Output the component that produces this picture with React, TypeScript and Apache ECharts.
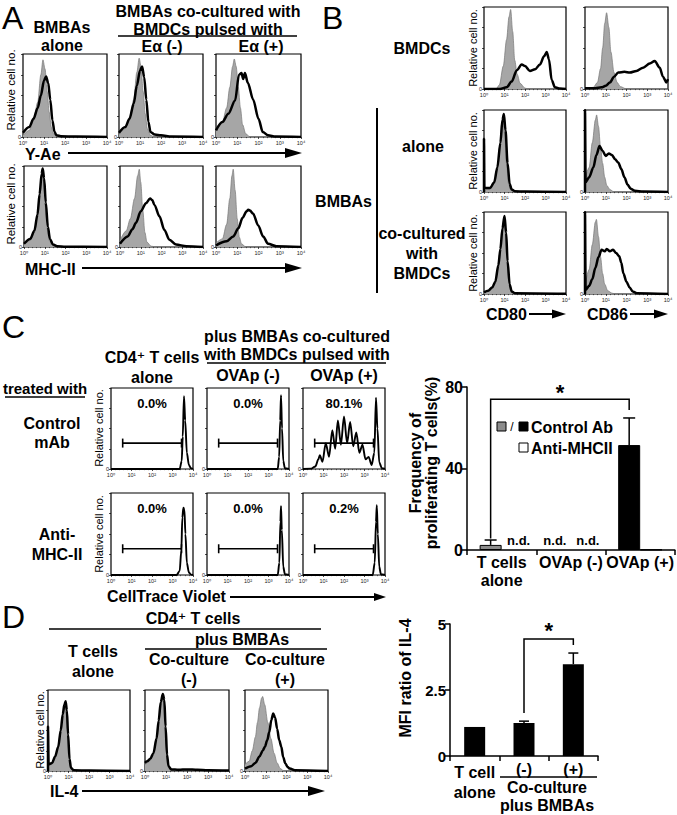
import React, { useEffect, useRef } from 'react';
import * as echarts from 'echarts';

const FONT = '"Liberation Sans", Arial, Helvetica, "DejaVu Sans", sans-serif';
const SUP = ['\u2070', '\u00b9', '\u00b2', '\u00b3', '\u2074'];

// ---------- Histogram data: [log10 fluorescence, % of max] ----------
// Panel A, Y-Ae row
const aYAeAloneIso = [[0,2],[0.3,8],[0.5,20],[0.7,42],[0.85,75],[0.95,93],[1.05,82],[1.15,55],[1.25,30],[1.35,12],[1.45,4],[1.6,0.5],[2,0],[4,0]];
const aYAeAlone = [[0,5],[0.3,12],[0.5,22],[0.7,35],[0.85,50],[1.0,68],[1.1,73],[1.2,65],[1.3,45],[1.4,20],[1.5,6],[1.6,2],[1.8,1],[2.5,0.5],[4,0]];
const aYAeMinusIso = [[0,3],[0.3,10],[0.5,22],[0.7,45],[0.85,78],[0.96,95],[1.05,85],[1.15,55],[1.25,28],[1.35,10],[1.5,2],[1.7,0],[4,0]];
const aYAeMinus = [[0,5],[0.3,12],[0.5,22],[0.7,40],[0.85,62],[1.0,80],[1.1,85],[1.2,72],[1.3,45],[1.4,18],[1.5,6],[1.7,3],[2.0,2],[2.5,0.5],[4,0]];
const aYAePlusIso = [[0,10],[0.3,18],[0.5,35],[0.65,60],[0.78,85],[0.86,94],[0.95,85],[1.05,60],[1.15,35],[1.25,15],[1.4,4],[1.6,0],[4,0]];
const aYAePlus = [[0,8],[0.3,18],[0.58,28],[0.9,44],[1.08,75],[1.2,77],[1.28,70],[1.36,77],[1.5,65],[1.75,45],[2.0,22],[2.2,6],[2.45,2],[2.8,0.5],[4,0]];
// Panel A, MHC-II row
const aMhcAloneIso = [[0,3],[0.3,8],[0.5,18],[0.65,38],[0.75,62],[0.83,85],[0.88,92],[0.95,82],[1.03,50],[1.12,22],[1.22,8],[1.35,2],[1.6,0],[4,0]];
const aMhcAlone = [[0,4],[0.3,10],[0.5,20],[0.65,40],[0.75,65],[0.85,90],[0.9,97],[0.97,85],[1.05,55],[1.15,25],[1.25,10],[1.4,3],[1.6,1],[2.0,0.3],[4,0]];
const aMhcMinusIso = [[0,8],[0.3,20],[0.5,35],[0.7,60],[0.85,88],[0.93,96],[1.0,80],[1.1,45],[1.2,18],[1.3,6],[1.5,1],[1.8,0],[4,0]];
const aMhcMinus = [[0,4],[0.37,13],[0.6,22],[0.77,30],[1.0,44],[1.25,54],[1.45,60],[1.55,58],[1.66,52],[1.9,38],[2.14,21],[2.38,9],[2.7,3],[3.2,1],[4,0]];
const aMhcPlusIso = [[0,5],[0.3,10],[0.5,28],[0.65,60],[0.75,88],[0.81,96],[0.9,70],[1.0,35],[1.1,12],[1.2,4],[1.4,0],[4,0]];
const aMhcPlus = [[0,2],[0.5,7],[0.81,13],[1.05,23],[1.25,36],[1.44,44],[1.52,46],[1.6,45],[1.75,41],[1.98,27],[2.22,13],[2.45,4],[2.84,1],[4,0]];
// Panel B
const bDcCd80Iso = [[0,0],[0.6,0.5],[0.75,5],[0.94,28],[1.1,60],[1.22,88],[1.3,97],[1.4,70],[1.5,35],[1.62,18],[1.76,7],[2.0,1],[2.2,0],[4,0]];
const bDcCd80 = [[0,0],[0.78,0],[1.1,2],[1.35,9],[1.6,23],[1.84,30],[2.0,28],[2.24,22],[2.49,24],[2.73,30],[2.93,40],[3.06,45],[3.17,36],[3.3,11],[3.46,2],[3.7,0.5],[4,0]];
const bDcCd86Iso = [[0,0.5],[0.4,2],[0.6,8],[0.75,25],[0.85,50],[0.95,80],[1.04,93],[1.15,75],[1.25,45],[1.4,20],[1.55,8],[1.7,3],[2.0,0],[4,0]];
const bDcCd86 = [[0,1],[0.5,1],[0.8,2],[1.0,4],[1.2,8],[1.4,15],[1.6,20],[1.9,21],[2.16,20],[2.48,22],[2.8,26],[3.12,31],[3.36,34],[3.6,26],[3.76,15],[3.92,8],[4,12]];
const bAloneCd80Iso = [[0,2],[0.3,4],[0.5,10],[0.65,28],[0.78,58],[0.87,85],[0.92,90],[1.0,72],[1.1,35],[1.2,10],[1.3,3],[1.5,0],[4,0]];
const bAloneCd80 = [[0,0],[0,65],[0.02,5],[0.3,5],[0.5,12],[0.65,30],[0.8,60],[0.9,88],[0.97,95],[1.05,75],[1.15,35],[1.25,10],[1.35,3],[1.5,1],[2,0.5],[4,0]];
const bAloneCd86Iso = [[0,15],[0.2,30],[0.35,60],[0.5,88],[0.56,94],[0.65,80],[0.75,55],[0.85,35],[0.95,18],[1.05,8],[1.2,3],[1.4,0],[4,0]];
const bAloneCd86 = [[0,0],[0,100],[0.03,12],[0.2,18],[0.4,30],[0.55,45],[0.7,56],[0.85,50],[1.0,44],[1.15,47],[1.3,45],[1.45,40],[1.6,36],[1.75,28],[1.9,18],[2.05,9],[2.2,4],[2.4,1.5],[2.8,0.5],[4,0]];
const bCoCd80Iso = [[0,2],[0.2,4],[0.4,8],[0.55,14],[0.7,32],[0.8,52],[0.9,78],[0.97,92],[1.05,75],[1.12,42],[1.22,14],[1.32,4],[1.5,0.5],[4,0]];
const bCoCd80 = [[0,2],[0.2,4],[0.4,8],[0.55,15],[0.7,35],[0.8,55],[0.9,80],[1.0,95],[1.08,75],[1.15,40],[1.25,12],[1.35,3],[1.5,1],[4,0.3]];
const bCoCd86Iso = [[0,10],[0.2,30],[0.35,60],[0.5,88],[0.55,91],[0.65,70],[0.75,45],[0.85,25],[0.95,12],[1.1,4],[1.3,1],[1.5,0],[4,0]];
const bCoCd86 = [[0,0],[0,100],[0.03,5],[0.2,10],[0.35,18],[0.5,32],[0.65,45],[0.8,54],[0.95,52],[1.05,55],[1.2,52],[1.35,54],[1.5,50],[1.65,46],[1.75,38],[1.85,25],[2.0,15],[2.15,8],[2.3,3],[2.5,1],[4,0]];
// Panel C (CellTrace Violet)
const cCtrlAlone = [[0,0],[3.35,0],[3.45,10],[3.5,40],[3.56,90],[3.62,60],[3.7,20],[3.8,5],[3.9,1],[4,0]];
const cCtrlMinus = [[0,0],[3.45,0],[3.52,15],[3.57,60],[3.61,91],[3.66,50],[3.72,10],[3.8,1],[4,0]];
const cCtrlPlus = [[0,0],[0.4,0.5],[0.6,3],[0.75,12],[0.82,17],[0.95,9],[1.11,32],[1.27,15],[1.43,48],[1.57,25],[1.7,60],[1.85,30],[2.0,65],[2.15,32],[2.3,58],[2.45,28],[2.6,45],[2.75,20],[2.9,30],[3.05,12],[3.2,15],[3.35,5],[3.48,20],[3.56,88],[3.63,50],[3.72,8],[3.85,1],[4,0]];
const cAntiAlone = [[0,0],[3.2,0],[3.35,5],[3.43,30],[3.48,70],[3.53,82],[3.58,80],[3.63,50],[3.7,15],[3.8,3],[3.9,0.5],[4,0]];
const cAntiMinus = [[0,0],[3.45,0],[3.53,15],[3.58,65],[3.61,84],[3.65,55],[3.72,10],[3.8,1],[4,0]];
const cAntiPlus = [[0,0],[3.4,0],[3.5,15],[3.56,65],[3.6,85],[3.65,50],[3.72,10],[3.8,1],[4,0]];
const cPercents = ['0.0%', '0.0%', '80.1%', '0.0%', '0.0%', '0.2%'];
const cGate = [0.57, 3.44];
const cGateLevel = 32;
// Panel D (IL-4)
const dAloneIso = [[0,10],[0.2,10],[0.35,18],[0.5,30],[0.62,50],[0.72,70],[0.8,80],[0.85,82],[0.92,70],[0.98,40],[1.05,12],[1.12,3],[1.3,0],[4,0]];
const dAlone = [[0,0],[0,55],[0.03,8],[0.2,10],[0.35,18],[0.5,30],[0.62,50],[0.72,70],[0.8,82],[0.86,86],[0.92,75],[0.98,45],[1.05,15],[1.12,4],[1.25,1],[2,0.5],[4,0]];
const dMinusIso = [[0,8],[0.2,12],[0.4,20],[0.55,38],[0.65,60],[0.75,82],[0.85,93],[0.92,85],[0.98,50],[1.05,15],[1.15,4],[1.3,0],[4,0]];
const dMinus = [[0,10],[0.1,12],[0.25,15],[0.4,22],[0.55,40],[0.65,62],[0.75,85],[0.85,95],[0.92,88],[0.98,55],[1.05,20],[1.12,6],[1.25,2],[1.6,1.5],[2.0,2],[2.5,1.5],[3,1],[4,0.5]];
const dPlusIso = [[0,8],[0.2,12],[0.35,25],[0.5,42],[0.6,60],[0.7,78],[0.8,90],[0.85,92],[0.95,82],[1.1,60],[1.25,40],[1.4,22],[1.55,10],[1.7,3],[1.85,0.5],[2,0],[4,0]];
const dPlus = [[0,3],[0.3,6],[0.5,10],[0.7,18],[0.85,25],[0.96,30],[1.07,38],[1.17,48],[1.27,63],[1.36,71],[1.45,66],[1.55,52],[1.65,38],[1.75,30],[1.84,17],[1.95,9],[2.05,5],[2.16,3],[2.4,1],[4,0]];

// ---------- Bar chart data ----------
const cBarCategories = ['T cells\nalone', 'OVAp (-)', 'OVAp (+)'];
const cControlAb = [2.5, null, 51.5]; // null = n.d.
const cControlErr = [2.4, 0, 13.3];
const cAntiMHCII = [null, null, 0.2];
const cBracket = [0, 2, 74, 5.6, 68.7, 80]; // from, to, level, left foot, right foot, star level
const dBarCategories = ['T cell\nalone', '(-)', '(+)'];
const dMfiRatio = [1.1, 1.25, 3.48];
const dMfiErr = [0, 0.07, 0.42];
const dBracket = [1, 2, 4.43, 1.63, 4.2, 4.96];

// ---------- Layout ----------
type H = { left: number; top: number; w: number; h: number; gray?: number[][]; black: number[][]; c?: number };
const histLayout: H[] = [
  { left: 23, top: 54, w: 84, h: 83, gray: aYAeAloneIso, black: aYAeAlone },
  { left: 119, top: 54, w: 84, h: 83, gray: aYAeMinusIso, black: aYAeMinus },
  { left: 216, top: 54, w: 85, h: 83, gray: aYAePlusIso, black: aYAePlus },
  { left: 24, top: 166, w: 83, h: 81, gray: aMhcAloneIso, black: aMhcAlone },
  { left: 120, top: 166, w: 83, h: 81, gray: aMhcMinusIso, black: aMhcMinus },
  { left: 216, top: 166, w: 85, h: 81, gray: aMhcPlusIso, black: aMhcPlus },
  { left: 484, top: 7, w: 82, h: 82, gray: bDcCd80Iso, black: bDcCd80 },
  { left: 585, top: 7, w: 83, h: 82, gray: bDcCd86Iso, black: bDcCd86 },
  { left: 484, top: 110, w: 82, h: 82, gray: bAloneCd80Iso, black: bAloneCd80 },
  { left: 585, top: 110, w: 83, h: 82, gray: bAloneCd86Iso, black: bAloneCd86 },
  { left: 484, top: 212, w: 82, h: 82, gray: bCoCd80Iso, black: bCoCd80 },
  { left: 585, top: 212, w: 83, h: 82, gray: bCoCd86Iso, black: bCoCd86 },
  { left: 111, top: 388, w: 82, h: 81, black: cCtrlAlone, c: 0 },
  { left: 207, top: 388, w: 82, h: 81, black: cCtrlMinus, c: 1 },
  { left: 303, top: 388, w: 82, h: 81, black: cCtrlPlus, c: 2 },
  { left: 111, top: 493, w: 82, h: 82, black: cAntiAlone, c: 3 },
  { left: 207, top: 493, w: 82, h: 82, black: cAntiMinus, c: 4 },
  { left: 303, top: 493, w: 82, h: 82, black: cAntiPlus, c: 5 },
  { left: 48, top: 690, w: 82, h: 81, gray: dAloneIso, black: dAlone },
  { left: 145, top: 690, w: 84, h: 81, gray: dMinusIso, black: dMinus },
  { left: 245, top: 690, w: 83, h: 81, gray: dPlusIso, black: dPlus },
];

const font = (size: number, weight = 'bold') => `${weight} ${size}px ${FONT}`;
function txt(text: string, x: number, y: number, size: number, o: any = {}) {
  const align = o.align || 'center';
  return {
    type: 'text', x, y, rotation: o.rot || 0, z: 20,
    style: {
      text, font: font(size, o.weight || 'bold'), fill: '#000',
      align, verticalAlign: 'middle', textAlign: align, textVerticalAlign: 'middle',
      lineHeight: o.lh || size * 1.15,
    },
  };
}
function ln(x1: number, y1: number, x2: number, y2: number, w = 1.5) {
  return { type: 'line', z: 20, shape: { x1, y1, x2, y2 }, style: { stroke: '#000', lineWidth: w } };
}
function arrow(x1: number, x2: number, y: number, len = 17, half = 5) {
  return [
    ln(x1, y, x2 - len + 2, y, 2),
    { type: 'polygon', z: 20, shape: { points: [[x2 - len, y - half], [x2, y], [x2 - len, y + half]] }, style: { fill: '#000' } },
  ];
}
function rect(x: number, y: number, w: number, h: number, fill: string) {
  return { type: 'rect', z: 20, shape: { x, y, width: w, height: h }, style: { fill, stroke: '#000', lineWidth: 1 } };
}

function buildOption() {
  const grids: any[] = [];
  const xAxes: any[] = [];
  const yAxes: any[] = [];
  const series: any[] = [];
  const graphics: any[] = [];

  histLayout.forEach((h, i) => {
    grids.push({ left: h.left, top: h.top, width: h.w, height: h.h, show: true, borderColor: '#000', borderWidth: 1.2, backgroundColor: '#fff' });
    xAxes.push({
      gridIndex: i, type: 'value', min: 0, max: 4, interval: 1,
      axisLine: { show: false },
      axisTick: { show: true, length: 2, lineStyle: { color: '#000', width: 0.7 } },
      minorTick: { show: true, splitNumber: 5, length: 1.2, lineStyle: { color: '#000', width: 0.5 } },
      axisLabel: { fontSize: 5.5, margin: 2.5, color: '#222', fontFamily: FONT, formatter: (v: number) => '10' + SUP[Math.round(v)] },
      splitLine: { show: false },
    });
    yAxes.push({
      gridIndex: i, type: 'value', min: 0, max: 100, interval: 25,
      axisLine: { show: false },
      axisTick: { show: true, length: 2, lineStyle: { color: '#000', width: 0.7 } },
      axisLabel: { fontSize: 5.5, margin: 2, color: '#222', fontFamily: FONT, formatter: (v: number) => (v === 0 ? '0' : '') },
      splitLine: { show: false },
    });
    if (h.gray) {
      series.push({
        type: 'line', xAxisIndex: i, yAxisIndex: i, data: h.gray, symbol: 'none', smooth: 0.3, smoothMonotone: 'x',
        lineStyle: { color: '#777', width: 0.7 }, areaStyle: { color: '#a6a6a6', opacity: 1 }, z: 2, silent: true,
      });
    }
    series.push({
      type: 'line', xAxisIndex: i, yAxisIndex: i, data: h.black, symbol: 'none', smooth: 0.3, smoothMonotone: 'x',
      lineStyle: { color: '#000', width: h.c !== undefined ? 1.9 : 2.5 }, z: 3, silent: true,
    });
    if (h.c !== undefined) {
      series.push({
        type: 'line', xAxisIndex: i, yAxisIndex: i, data: [[cGate[0], cGateLevel], [cGate[1], cGateLevel]],
        symbol: 'rect', symbolSize: [1.6, 9], showSymbol: true, itemStyle: { color: '#000' },
        lineStyle: { color: '#000', width: 1.6 }, z: 4, silent: true,
      });
      graphics.push(txt(cPercents[h.c], h.left + h.w / 2, h.top + 15, 13));
    }
  });

  const barAxisLabel = { fontSize: 16, fontWeight: 'bold', color: '#000', fontFamily: FONT };
  const errRender = (offset: number, cap: number) => (_p: any, api: any) => {
    const x = api.value(0), v = api.value(1), e = api.value(2);
    if (!e) return null;
    const p0 = api.coord([x, v]);
    const p1 = api.coord([x, v + e]);
    const cx = p0[0] + offset;
    return {
      type: 'group', children: [
        { type: 'line', shape: { x1: cx, y1: p0[1], x2: cx, y2: p1[1] }, style: { stroke: '#000', lineWidth: 1.5 } },
        { type: 'line', shape: { x1: cx - cap, y1: p1[1], x2: cx + cap, y2: p1[1] }, style: { stroke: '#000', lineWidth: 1.5 } },
      ],
    };
  };
  const bracketRender = (offset: number) => (_p: any, api: any) => {
    const from = api.value(0), to = api.value(1), lvl = api.value(2), lb = api.value(3), rb = api.value(4), st = api.value(5);
    const a = api.coord([from, lb]), b = api.coord([from, lvl]);
    const c = api.coord([to, lvl]), d = api.coord([to, rb]);
    const sy = api.coord([from, st])[1];
    const xa = a[0] + offset, xc = c[0] + offset;
    return {
      type: 'group', children: [
        { type: 'polyline', shape: { points: [[xa, a[1]], [xa, b[1]], [xc, c[1]], [xc, d[1]]] }, style: { stroke: '#000', lineWidth: 1.5, fill: 'none' } },
        { type: 'text', x: (xa + xc) / 2, y: sy + 5, style: { text: '*', font: font(22), fill: '#000', align: 'center', verticalAlign: 'middle', textAlign: 'center', textVerticalAlign: 'middle' } },
      ],
    };
  };

  // Panel C bar chart
  const ci = grids.length;
  grids.push({ left: 467, top: 387, width: 208, height: 163 });
  xAxes.push({
    gridIndex: ci, type: 'category', data: cBarCategories,
    axisLine: { lineStyle: { color: '#000', width: 1.5 } },
    axisTick: { show: true, length: 5, lineStyle: { color: '#000', width: 1.5 } },
    axisLabel: { ...barAxisLabel, margin: 3, lineHeight: 18, interval: 0 },
  });
  yAxes.push({
    gridIndex: ci, type: 'value', min: 0, max: 80, interval: 40,
    axisLine: { show: true, lineStyle: { color: '#000', width: 1.5 } },
    axisTick: { show: true, length: 5, lineStyle: { color: '#000', width: 1.5 } },
    axisLabel: { ...barAxisLabel, margin: 4 },
    splitLine: { show: false },
  });
  const ndItem = (dx: number) => ({
    value: 0, itemStyle: { borderWidth: 0 },
    label: { show: true, position: 'top', distance: 3, offset: [dx, 0], formatter: 'n.d.', fontSize: 13, fontWeight: 'bold', color: '#000', fontFamily: FONT },
  });
  series.push({
    type: 'bar', xAxisIndex: ci, yAxisIndex: ci, barWidth: 22, barGap: '0%', z: 3,
    data: cControlAb.map((v, k) => (v === null ? ndItem(-5) : { value: v, itemStyle: { color: k === 0 ? '#8c8c8c' : '#000' } })),
    itemStyle: { color: '#000', borderColor: '#000', borderWidth: 1 },
  });
  series.push({
    type: 'bar', xAxisIndex: ci, yAxisIndex: ci, barWidth: 22, barGap: '0%', z: 3,
    data: cAntiMHCII.map((v) => (v === null ? ndItem(6) : v)),
    itemStyle: { color: '#fff', borderColor: '#000', borderWidth: 1 },
  });
  series.push({
    type: 'custom', xAxisIndex: ci, yAxisIndex: ci, z: 4, silent: true,
    data: cControlAb.map((v, k) => [k, v === null ? 0 : v, cControlErr[k]]),
    renderItem: errRender(-11, 6),
  });
  series.push({
    type: 'custom', xAxisIndex: ci, yAxisIndex: ci, z: 4, silent: true,
    data: [cBracket], renderItem: bracketRender(-11),
  });

  // Panel D bar chart
  const di = grids.length;
  grids.push({ left: 450, top: 624, width: 148, height: 132 });
  xAxes.push({
    gridIndex: di, type: 'category',
    data: dBarCategories.map((c) => (c.includes('\n') ? c : { value: c, textStyle: { lineHeight: 14 } })),
    axisLine: { lineStyle: { color: '#000', width: 1.5 } },
    axisTick: { show: true, length: 5, lineStyle: { color: '#000', width: 1.5 } },
    axisLabel: { ...barAxisLabel, margin: 6, lineHeight: 20, interval: 0 },
  });
  yAxes.push({
    gridIndex: di, type: 'value', min: 0, max: 5, interval: 2.5,
    axisLine: { show: true, lineStyle: { color: '#000', width: 1.5 } },
    axisTick: { show: true, length: 5, lineStyle: { color: '#000', width: 1.5 } },
    axisLabel: { ...barAxisLabel, fontSize: 15, margin: 4 },
    splitLine: { show: false },
  });
  series.push({
    type: 'bar', xAxisIndex: di, yAxisIndex: di, barWidth: 21, z: 3,
    data: dMfiRatio, itemStyle: { color: '#000' },
  });
  series.push({
    type: 'custom', xAxisIndex: di, yAxisIndex: di, z: 4, silent: true,
    data: dMfiRatio.map((v, k) => [k, v, dMfiErr[k]]),
    renderItem: errRender(0, 5),
  });
  series.push({
    type: 'custom', xAxisIndex: di, yAxisIndex: di, z: 4, silent: true,
    data: [dBracket], renderItem: bracketRender(0),
  });

  // ---------- Texts & decorations ----------
  const rot = Math.PI / 2;
  graphics.push(
    // panel letters
    txt('A', 2, 18, 32, { align: 'left', weight: 'normal', lh: 32 }),
    txt('B', 322, 18, 32, { align: 'left', weight: 'normal', lh: 32 }),
    txt('C', 2, 327, 32, { align: 'left', weight: 'normal', lh: 32 }),
    txt('D', 2, 617, 32, { align: 'left', weight: 'normal', lh: 32 }),
    // Panel A
    txt('BMBAs\nalone', 62, 36, 16, { lh: 18 }),
    txt('BMBAs co-cultured with\nBMDCs pulsed with', 208, 20, 16, { lh: 18 }),
    ln(118, 36, 297, 36),
    txt('E\u03b1 (-)', 162, 46, 16),
    txt('E\u03b1 (+)', 261, 46, 16),
    txt('Relative cell no.', 11, 90, 11.5, { rot, weight: 'normal' }),
    txt('Relative cell no.', 11, 204, 11.5, { rot, weight: 'normal' }),
    txt('Y-Ae', 25, 154, 16, { align: 'left' }),
    ...arrow(68, 302, 153),
    txt('MHC-II', 25, 269, 16, { align: 'left' }),
    ...arrow(82, 302, 268),
    // Panel B
    txt('BMDCs', 422, 48, 16),
    ln(377, 108, 377, 293, 2),
    txt('alone', 423, 146, 16),
    txt('BMBAs', 372, 201, 16, { align: 'right' }),
    txt('co-cultured\nwith\nBMDCs', 422, 253, 16, { lh: 20 }),
    txt('Relative cell no.', 473, 48, 11, { rot, weight: 'normal' }),
    txt('Relative cell no.', 473, 151, 11, { rot, weight: 'normal' }),
    txt('Relative cell no.', 473, 253, 11, { rot, weight: 'normal' }),
    txt('CD80', 486, 314, 16, { align: 'left', lh: 16 }),
    ...arrow(529, 566, 314, 14, 4.5),
    txt('CD86', 587, 314, 16, { align: 'left', lh: 16 }),
    ...arrow(630, 668, 314, 14, 4.5),
    // Panel C
    txt('plus BMBAs co-cultured\nwith BMDCs pulsed with', 297, 345, 16, { lh: 18 }),
    ln(207, 363, 386, 363),
    txt('OVAp (-)', 248, 375, 16),
    txt('OVAp (+)', 344, 375, 16),
    txt('CD4\u207a T cells\nalone', 152, 367, 16, { lh: 20 }),
    txt('treated with', 45, 388, 15),
    ln(5, 397, 85, 397),
    txt('Control\nmAb', 52, 433, 16, { lh: 19 }),
    txt('Anti-\nMHC-II', 57, 544, 16, { lh: 20 }),
    txt('Relative cell no.', 99, 428, 11, { rot, weight: 'normal' }),
    txt('Relative cell no.', 99, 534, 11, { rot, weight: 'normal' }),
    txt('CellTrace Violet', 107, 596, 16, { align: 'left' }),
    ...arrow(230, 386, 597, 12, 4),
    txt('Frequency of\nproliferating T cells(%)', 423, 463, 16, { rot, lh: 16 }),
    rect(497, 422, 9, 9, '#8c8c8c'),
    txt('/', 512, 427, 12, { weight: 'normal' }),
    rect(519, 422, 9, 9, '#000'),
    txt('Control Ab', 531, 427, 16, { align: 'left' }),
    rect(519, 443, 9, 9, '#fff'),
    txt('Anti-MHCII', 531, 448, 16, { align: 'left' }),
    // Panel D
    txt('CD4\u207a T cells', 193, 618, 16),
    ln(49, 629, 321, 629),
    txt('plus BMBAs', 242, 639, 16),
    ln(145, 649, 327, 649),
    txt('T cells\nalone', 93, 661, 16, { lh: 20 }),
    txt('Co-culture\n(-)', 189, 669, 16, { lh: 20 }),
    txt('Co-culture\n(+)', 285, 669, 16, { lh: 20 }),
    txt('Relative cell no.', 40, 730, 11, { rot, weight: 'normal' }),
    txt('IL-4', 50, 791, 16, { align: 'left' }),
    ...arrow(82, 325, 791),
    txt('MFI ratio of IL-4', 405, 678, 16, { rot }),
    ln(500, 777, 597, 777),
    txt('Co-culture\nplus BMBAs', 547, 796, 16, { lh: 18 }),
  );

  return {
    animation: false,
    backgroundColor: '#fff',
    textStyle: { fontFamily: FONT },
    grid: grids,
    xAxis: xAxes,
    yAxis: yAxes,
    series,
    graphic: { elements: graphics },
  };
}

export default function App() {
  const ref = useRef<HTMLDivElement>(null);
  useEffect(() => {
    if (!ref.current) return;
    const chart = echarts.init(ref.current, undefined, { renderer: 'svg' });
    chart.setOption(buildOption() as any);
    return () => chart.dispose();
  }, []);
  return <div ref={ref} style={{ position: 'fixed', left: 0, top: 0, width: 677, height: 815, background: '#fff' }} />;
}
